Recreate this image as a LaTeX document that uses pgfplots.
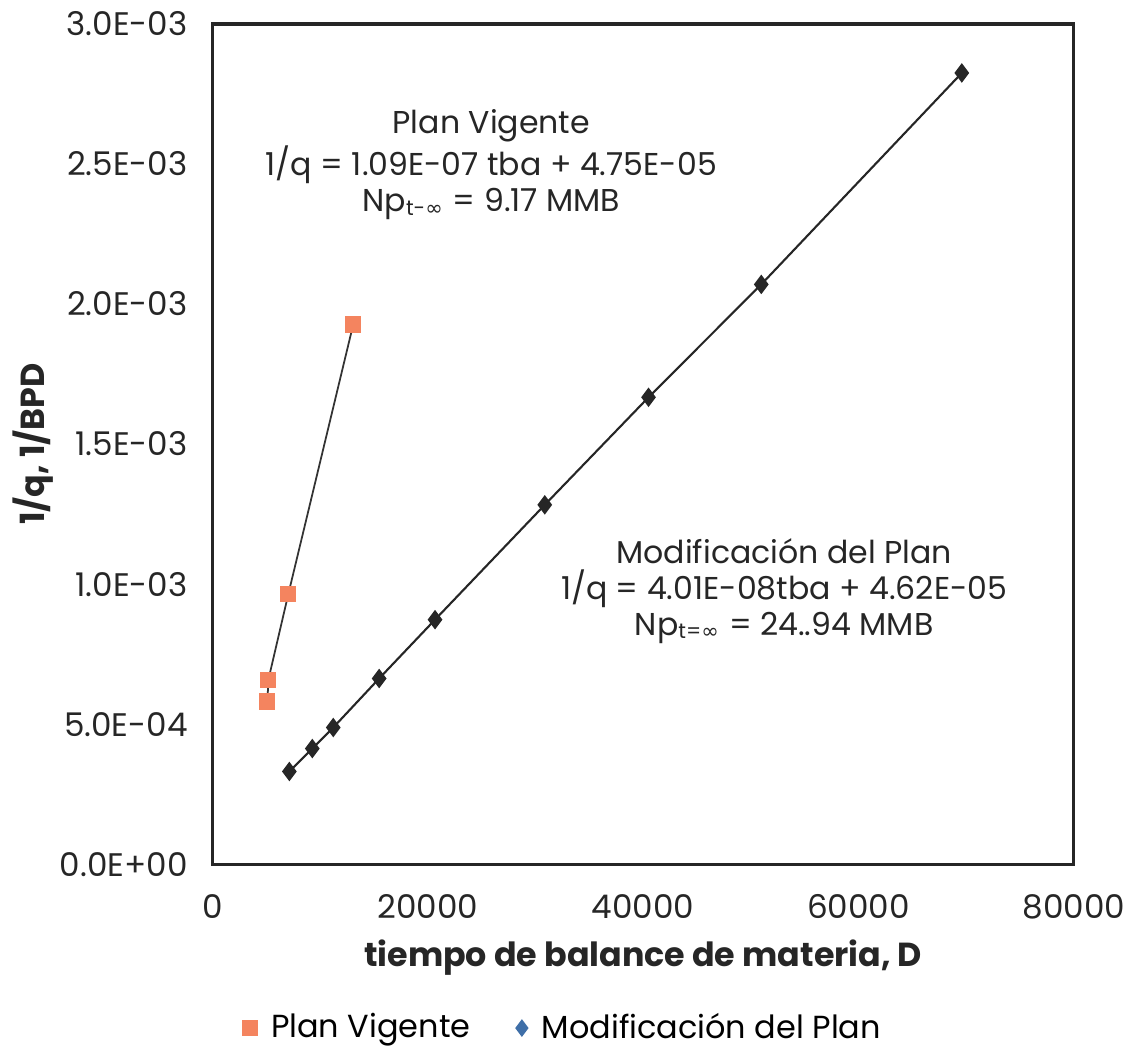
\documentclass[border=0pt]{standalone}
\usepackage{fontspec}
\setmainfont{Poppins}
\newfontfamily\dejavu{DejaVu Sans}
\usepackage{pgfplots}
\pgfplotsset{compat=1.18}
\definecolor{pvorange}{HTML}{F4845F}
\definecolor{mpblue}{HTML}{3F6FA8}
\definecolor{mpdark}{HTML}{262626}
\begin{document}
\begin{tikzpicture}
\begin{axis}[
  scale only axis, width=8.63cm, height=8.42cm,
  xmin=0, xmax=80000, ymin=0, ymax=0.003,
  axis line style={line width=0.9pt, black!85},
  xtick={0,20000,40000,60000,80000},
  xticklabels={0,20000,40000,60000,80000},
  ytick={0,0.0005,0.001,0.0015,0.002,0.0025,0.003},
  yticklabels={0.0E+00,5.0E-04,1.0E-03,1.5E-03,2.0E-03,2.5E-03,3.0E-03},
  scaled ticks=false,
  major tick length=0pt,
  tick label style={font=\fontsize{9.3}{11}\selectfont, text=black!85},
  xticklabel style={inner xsep=0pt, yshift=-5pt},
  yticklabel style={inner xsep=0pt, xshift=-6.9pt},
  xlabel={tiempo de balance de materia, D},
  ylabel={1/q, 1/BPD},
  label style={font=\bfseries\fontsize{9.5}{12}\selectfont, text=black!85},
  xlabel style={at={(axis description cs:0.5,-0.1116)}, anchor=center},
  ylabel style={at={(axis description cs:-0.2086,0.5)}, anchor=center},
  legend style={at={(axis description cs:0.4135,-0.195)}, anchor=center,
    legend columns=2, draw=none, font=\fontsize{9.1}{11}\selectfont,
    /tikz/every even column/.append style={column sep=9pt},
    nodes={inner xsep=4pt}},
  clip=false,
]
\path (rel axis cs:-0.2468,-0.2209) rectangle (rel axis cs:1.0568,1.0285);
% Plan Vigente markers
\addplot[only marks, mark=square*, mark size=2.1pt, color=pvorange, fill=pvorange, forget plot]
  coordinates {(5097,0.000581) (5190,0.000659) (7044,0.000965) (13068,0.001927)};
\addplot[black!80, line width=0.5pt, forget plot]
  coordinates {(5097,0.000581) (5190,0.000659) (7044,0.000965) (13068,0.001927)};
% Modificacion del Plan
\addplot[black!85, line width=0.6pt, mark=diamond*, mark size=2.3pt,
  mark options={fill=mpdark, draw=mpdark}, forget plot]
  coordinates {(7136,0.000331) (9268,0.000413) (11214,0.000488) (15477,0.000663)
    (20667,0.000873) (30862,0.001283) (40500,0.001667) (50973,0.002070) (69601,0.002825)};
\addlegendimage{only marks, mark=square*, mark size=2.1pt, color=pvorange}
\addlegendentry{Plan Vigente}
\addlegendimage{only marks, mark=diamond*, mark size=2.2pt, color=mpblue}
\addlegendentry{Modificación del Plan}
\node[align=center, font=\fontsize{9}{10.3}\selectfont, text=black!85] at (axis cs:25900,0.002497)
  {Plan Vigente\\ 1/q = 1.09E-07 tba + 4.75E-05\\ Np\textsubscript{t-{\dejavu ∞}} = 9.17 MMB};
\node[align=center, font=\fontsize{9}{10.3}\selectfont, text=black!85] at (axis cs:53105,0.000976)
  {Modificación del Plan\\ 1/q = 4.01E-08tba + 4.62E-05\\ Np\textsubscript{t={\dejavu ∞}} = 24..94 MMB};
\end{axis}
\end{tikzpicture}
\end{document}
